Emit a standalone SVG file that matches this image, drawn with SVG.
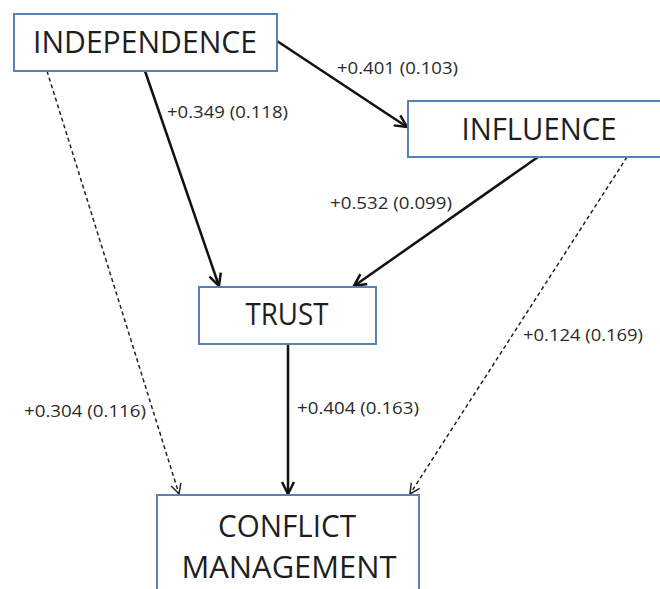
<svg xmlns="http://www.w3.org/2000/svg" width="660" height="589" viewBox="0 0 660 589">
<style>
.box{fill:#fff;stroke:#5b80b6;stroke-width:2}
.nt{font-family:"Open Sans","Liberation Sans",sans-serif;font-size:31px;fill:#1e1e1e;text-anchor:middle}
.lb{font-family:"Open Sans","Liberation Sans",sans-serif;font-size:16px;fill:#2a2a2a}
.sol{stroke:#111;stroke-width:2.5;fill:none}
.dsh{stroke:#222;stroke-width:1.5;stroke-dasharray:4 3;fill:none}
</style>
<defs>
<marker id="arr" viewBox="0 0 16 16" refX="14" refY="8" markerWidth="16" markerHeight="16" markerUnits="userSpaceOnUse" orient="auto">
<path d="M2,2 L14,8 L2,14" fill="none" stroke="#111" stroke-width="2.5"/>
</marker>
<marker id="arrd" viewBox="0 0 13 13" refX="11.5" refY="6.5" markerWidth="13" markerHeight="13" markerUnits="userSpaceOnUse" orient="auto">
<path d="M1.5,1.5 L11.5,6.5 L1.5,11.5" fill="none" stroke="#222" stroke-width="1.5"/>
</marker>
</defs>
<g id="connectors">
<line class="sol" x1="277" y1="41" x2="407" y2="127" marker-end="url(#arr)"/>
<line class="sol" x1="145" y1="71" x2="219" y2="286" marker-end="url(#arr)"/>
<line class="sol" x1="538" y1="157" x2="354" y2="286" marker-end="url(#arr)"/>
<line class="sol" x1="288" y1="344" x2="288" y2="494" marker-end="url(#arr)"/>
<line class="dsh" x1="47" y1="71" x2="179" y2="494" marker-end="url(#arrd)"/>
<line class="dsh" x1="627" y1="157" x2="410" y2="494" marker-end="url(#arrd)"/>
<text class="lb" x="337" y="74" textLength="121" lengthAdjust="spacingAndGlyphs">+0.401 (0.103)</text>
<text class="lb" x="167" y="118" textLength="121" lengthAdjust="spacingAndGlyphs">+0.349 (0.118)</text>
<text class="lb" x="330" y="209" textLength="122" lengthAdjust="spacingAndGlyphs">+0.532 (0.099)</text>
<text class="lb" x="24" y="417" textLength="122" lengthAdjust="spacingAndGlyphs">+0.304 (0.116)</text>
<text class="lb" x="297" y="414" textLength="122" lengthAdjust="spacingAndGlyphs">+0.404 (0.163)</text>
<text class="lb" x="523" y="341" textLength="120" lengthAdjust="spacingAndGlyphs">+0.124 (0.169)</text>
</g>
<g id="independence">
<rect class="box" x="14" y="14" width="263" height="57"/>
<text class="nt" x="145" y="53" textLength="224" lengthAdjust="spacingAndGlyphs">INDEPENDENCE</text>
</g>
<g id="influence">
<rect class="box" x="408" y="101" width="262" height="56"/>
<text class="nt" x="539" y="140" textLength="155" lengthAdjust="spacingAndGlyphs">INFLUENCE</text>
</g>
<g id="trust">
<rect class="box" x="199" y="287" width="177" height="57"/>
<text class="nt" x="287" y="325" textLength="83" lengthAdjust="spacingAndGlyphs">TRUST</text>
</g>
<g id="conflict-management">
<rect class="box" x="157" y="495" width="262" height="110"/>
<text class="nt" x="287" y="537" textLength="138" lengthAdjust="spacingAndGlyphs">CONFLICT</text>
<text class="nt" x="289" y="578" textLength="215" lengthAdjust="spacingAndGlyphs">MANAGEMENT</text>
</g>
</svg>
